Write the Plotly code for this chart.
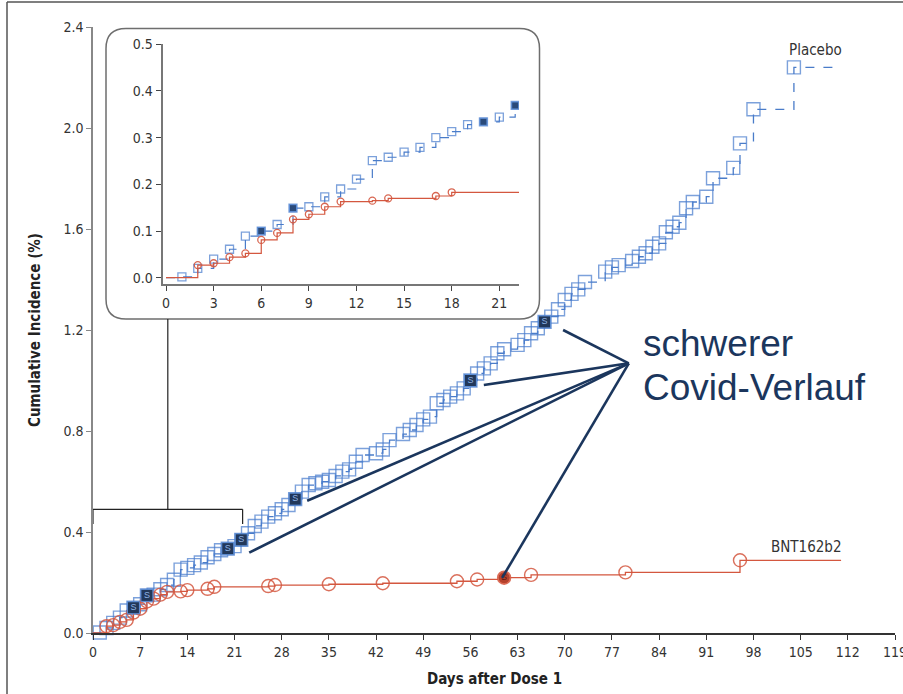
import plotly.graph_objects as go

# ---------------- data ----------------
placebo_days = [1, 2, 3, 4, 5, 6, 7, 8, 9, 10, 11, 12, 13, 14, 15, 16, 17, 18, 19, 20, 21, 22,
                23, 24, 25, 26, 27, 28, 29, 30, 31, 32, 33, 34, 35, 36, 37, 38, 39, 40, 42, 43,
                44, 46, 47, 48, 49, 50, 51, 52, 53, 54, 55, 56, 57, 58, 59, 60, 61, 63, 64, 65,
                66, 67, 68, 69, 70, 71, 72, 73, 76, 77, 78, 80, 81, 82, 83, 84, 85, 86, 87, 88,
                89, 91, 92, 95, 96, 98, 104]
placebo_vals = [0.002, 0.020, 0.040, 0.061, 0.089, 0.100, 0.114, 0.149, 0.152, 0.173, 0.190, 0.211,
                0.251, 0.258, 0.269, 0.279, 0.300, 0.313, 0.328, 0.334, 0.344, 0.369,
                0.395, 0.424, 0.441, 0.461, 0.474, 0.490, 0.507, 0.530, 0.560, 0.586, 0.593, 0.599,
                0.606, 0.622, 0.639, 0.648, 0.678, 0.705, 0.712, 0.727, 0.764, 0.788, 0.804, 0.824,
                0.846, 0.857, 0.910, 0.923, 0.936, 0.949, 0.969, 1.000, 1.028, 1.048, 1.068, 1.108,
                1.124, 1.141, 1.160, 1.187, 1.207, 1.232, 1.253, 1.282, 1.319, 1.343, 1.361, 1.390,
                1.431, 1.448, 1.457, 1.473, 1.490, 1.504, 1.530, 1.543, 1.587, 1.609, 1.625, 1.682,
                1.707, 1.728, 1.801, 1.842, 1.939, 2.074, 2.240]
placebo_end_day = 111
placebo_severe_days = [6, 8, 20, 22, 30, 56, 67]

bnt_days = [2, 3, 4, 5, 6, 7, 8, 9, 10, 11, 13, 14, 17, 18, 26, 27, 35, 43, 54, 57, 61, 65, 79, 96]
bnt_vals = [0.027, 0.031, 0.044, 0.052, 0.081, 0.096, 0.125, 0.136, 0.152, 0.163, 0.165, 0.170,
            0.175, 0.183, 0.186, 0.190, 0.193, 0.197, 0.205, 0.212, 0.219, 0.230, 0.240, 0.288]
bnt_end_day = 111
bnt_severe_days = [61]

x_ticks = list(range(0, 120, 7))
y_ticks = [0.0, 0.4, 0.8, 1.2, 1.6, 2.0, 2.4]
inset_x_ticks = list(range(0, 22, 3))
inset_y_ticks = [0.0, 0.1, 0.2, 0.3, 0.4, 0.5]

# leader-line targets (day, %) for the "schwerer Covid-Verlauf" callout
leader_hub = (79.5, 1.068)
leader_targets = [(69.75, 1.200), (57.99, 0.982), (31.78, 0.524), (23.18, 0.318), (60.70, 0.218)]

# ---------------- styling ----------------
BLUE = "#4a7cc9"
BLUE_MK = "rgba(74,125,205,0.72)"
RED = "#d4573f"
NAVY = "#1b365d"
FONT = "Liberation Sans Narrow, Arial Narrow, DejaVu Sans Condensed, sans-serif"

W, H = 903, 694
L, R, T, B = 93, 895, 27, 633
PW, PH = R - L, B - T


def px(xp):
    return (xp - L) / PW


def py(yp):
    return (B - yp) / PH


def sev(days, vals, sdays):
    return [d for d in sdays], [vals[days.index(d)] for d in sdays]


fig = go.Figure()

# ---------- main panel ----------
fig.add_trace(go.Scatter(
    x=[0] + placebo_days + [placebo_end_day], y=[0] + placebo_vals + [placebo_vals[-1]],
    mode="lines", line=dict(color=BLUE, width=1.3, dash="dash", shape="hv"),
    hoverinfo="skip", showlegend=False))
fig.add_trace(go.Scatter(
    x=placebo_days, y=placebo_vals, mode="markers",
    marker=dict(symbol="square-open", size=13, color=BLUE_MK, line=dict(width=1.4)),
    showlegend=False, cliponaxis=False))
fig.add_trace(go.Scatter(
    x=[0] + bnt_days + [bnt_end_day], y=[0] + bnt_vals + [bnt_vals[-1]],
    mode="lines", line=dict(color=RED, width=1.3, shape="hv"),
    hoverinfo="skip", showlegend=False))
fig.add_trace(go.Scatter(
    x=bnt_days, y=bnt_vals, mode="markers",
    marker=dict(symbol="circle-open", size=13, color="rgba(212,87,63,0.85)", line=dict(width=1.4)),
    showlegend=False, cliponaxis=False))
sx, sy = sev(placebo_days, placebo_vals, placebo_severe_days)
fig.add_trace(go.Scatter(
    x=sx, y=sy, mode="markers+text", text=["S"] * len(sx), textposition="middle center",
    textfont=dict(size=9, color="#8fb3e6", family="Liberation Sans, Arial, sans-serif"),
    marker=dict(symbol="square", size=12, color="#22385a", line=dict(color="#5d8fd8", width=1)),
    showlegend=False, cliponaxis=False))
bx, by = sev(bnt_days, bnt_vals, bnt_severe_days)
fig.add_trace(go.Scatter(
    x=bx, y=by, mode="markers+text", text=["S"] * len(bx), textposition="middle center",
    textfont=dict(size=9, color="#5a1a10", family="Liberation Sans, Arial, sans-serif"),
    marker=dict(symbol="circle", size=12, color="#b5412c", line=dict(color="#e06a52", width=1)),
    showlegend=False, cliponaxis=False))

# ---------- inset panel ----------
fig.add_trace(go.Scatter(
    x=[0] + placebo_days + [placebo_end_day], y=[0] + placebo_vals + [placebo_vals[-1]],
    mode="lines", line=dict(color=BLUE, width=1.2, dash="dash", shape="hv"),
    xaxis="x2", yaxis="y2", hoverinfo="skip", showlegend=False))
fig.add_trace(go.Scatter(
    x=placebo_days, y=placebo_vals, mode="markers",
    marker=dict(symbol="square-open", size=8, color=BLUE_MK, line=dict(width=1.3)),
    xaxis="x2", yaxis="y2", showlegend=False))
fig.add_trace(go.Scatter(
    x=[0] + bnt_days + [bnt_end_day], y=[0] + bnt_vals + [bnt_vals[-1]],
    mode="lines", line=dict(color=RED, width=1.2, shape="hv"),
    xaxis="x2", yaxis="y2", hoverinfo="skip", showlegend=False))
fig.add_trace(go.Scatter(
    x=bnt_days, y=bnt_vals, mode="markers",
    marker=dict(symbol="circle-open", size=7, color="rgba(212,87,63,0.9)", line=dict(width=1.3)),
    xaxis="x2", yaxis="y2", showlegend=False))
fig.add_trace(go.Scatter(
    x=sx, y=sy, mode="markers",
    marker=dict(symbol="square", size=7, color="#2a4a7a", line=dict(color="#5d8fd8", width=1)),
    xaxis="x2", yaxis="y2", showlegend=False))

shapes = []
# rounded inset box
x0, x1, y0, y1 = px(106), px(539.5), py(319), py(28.5)
rx, ry = 20 / PW, 20 / PH
path = (f"M {x0+rx},{y1} L {x1-rx},{y1} Q {x1},{y1} {x1},{y1-ry} L {x1},{y0+ry} "
        f"Q {x1},{y0} {x1-rx},{y0} L {x0+rx},{y0} Q {x0},{y0} {x0},{y0+ry} "
        f"L {x0},{y1-ry} Q {x0},{y1} {x0+rx},{y1} Z")
shapes.append(dict(type="path", path=path, xref="paper", yref="paper",
                   line=dict(color="#6e6e6e", width=1.5), layer="below"))
# bracket linking inset to days 0-22
bx0, bx1, bmid = 0, 22.2, 11.1
shapes += [
    dict(type="line", xref="x", yref="paper", x0=bx0, x1=bx0, y0=py(524), y1=py(509.3),
         line=dict(color="#222", width=1.2)),
    dict(type="line", xref="x", yref="paper", x0=bx0, x1=bx1, y0=py(509.3), y1=py(509.3),
         line=dict(color="#222", width=1.2)),
    dict(type="line", xref="x", yref="paper", x0=bx1, x1=bx1, y0=py(509.3), y1=py(524),
         line=dict(color="#222", width=1.2)),
    dict(type="line", xref="x", yref="paper", x0=bmid, x1=bmid, y0=py(509.3), y1=y0,
         line=dict(color="#222", width=1.2)),
]
# leader lines
for tx, ty in leader_targets:
    shapes.append(dict(type="line", xref="x", yref="y", x0=leader_hub[0], y0=leader_hub[1],
                       x1=tx, y1=ty, line=dict(color=NAVY, width=2.6)))
# outer frame (left and top edges)
shapes += [
    dict(type="line", xref="paper", yref="paper", x0=px(7), x1=px(7), y0=py(2), y1=py(700),
         line=dict(color="#555", width=1.5)),
    dict(type="line", xref="paper", yref="paper", x0=px(7), x1=px(910), y0=py(2), y1=py(2),
         line=dict(color="#555", width=1.5)),
]

annotations = [
    dict(text="Cumulative Incidence (%)", xref="paper", yref="paper", x=px(35), y=0.5,
         textangle=-90, showarrow=False, xanchor="center", yanchor="middle",
         font=dict(family=FONT, size=15, color="#222", weight="bold")),
    dict(text="Days after Dose 1", xref="paper", yref="paper", x=0.5, y=py(679),
         showarrow=False, xanchor="center", yanchor="middle",
         font=dict(family=FONT, size=15, color="#222", weight="bold")),
    dict(text="Placebo", xref="paper", yref="paper", x=px(815), y=py(50),
         showarrow=False, xanchor="center", yanchor="middle",
         font=dict(family=FONT, size=15, color="#333")),
    dict(text="BNT162b2", xref="paper", yref="paper", x=px(806), y=py(547),
         showarrow=False, xanchor="center", yanchor="middle",
         font=dict(family=FONT, size=15, color="#333")),
    dict(text="schwerer", xref="paper", yref="paper", x=px(641), y=py(343),
         showarrow=False, xanchor="left", yanchor="middle",
         font=dict(family="Liberation Sans, Arial, sans-serif", size=37, color=NAVY)),
    dict(text="Covid-Verlauf", xref="paper", yref="paper", x=px(641), y=py(388),
         showarrow=False, xanchor="left", yanchor="middle",
         font=dict(family="Liberation Sans, Arial, sans-serif", size=37, color=NAVY)),
]

axis_common = dict(showgrid=False, zeroline=False, showline=True, ticks="outside",
                   ticklen=5, tickwidth=1.2, ticklabeloverflow="allow",
                   tickfont=dict(family=FONT, size=14, color="#333"))

fig.update_layout(
    width=W, height=H,
    margin=dict(l=L, r=W - R, t=T, b=H - B, autoexpand=False),
    paper_bgcolor="white", plot_bgcolor="white",
    showlegend=False,
    xaxis=dict(range=[0, 119], tickvals=x_ticks, linecolor="#333", linewidth=1.5,
               tickcolor="#333", domain=[0, 1], **axis_common),
    yaxis=dict(range=[0, 2.4], tickvals=y_ticks, tickformat=".1f", linecolor="#888",
               linewidth=1.5, tickcolor="#888", domain=[0, 1], **axis_common),
    xaxis2=dict(range=[-0.21, 22.24], tickvals=inset_x_ticks, domain=[px(162.7), px(519)],
                anchor="y2", linecolor="#777", linewidth=2, tickcolor="#444", **axis_common),
    yaxis2=dict(range=[-0.0141, 0.5], tickvals=inset_y_ticks, tickformat=".1f",
                domain=[py(284.3), py(44.3)], anchor="x2", linecolor="#777", linewidth=2,
                tickcolor="#444", **axis_common),
    shapes=shapes,
    annotations=annotations,
)

fig.write_html("out.html", config={"displayModeBar": False},
               post_script="document.body.style.margin='0';document.body.style.overflow='hidden';")
